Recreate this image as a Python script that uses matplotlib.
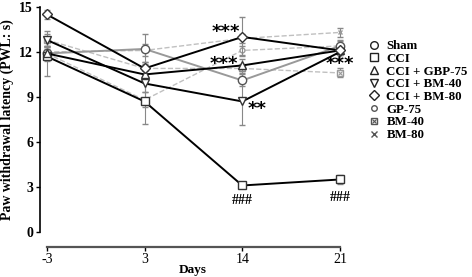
import matplotlib
matplotlib.use("Agg")
import matplotlib.pyplot as plt
import numpy as np
from matplotlib.lines import Line2D

days = ["-3", "3", "14", "21"]
groups = ["Sham", "CCI", "CCI + GBP-75", "CCI + BM-40", "CCI + BM-80", "GP-75", "BM-40", "BM-80"]
sham = [11.9, 12.2, 10.1, 12.4]
cci = [11.7, 8.7, 3.1, 3.5]
cci_gbp75 = [11.9, 10.5, 11.1, 12.1]
cci_bm40 = [12.8, 9.9, 8.7, 12.0]
cci_bm80 = [14.5, 10.9, 13.0, 12.1]
gp75 = [11.9, 8.8, 12.1, 12.4]
bm40 = [12.8, 10.9, 10.9, 10.6]
bm80 = [12.0, 12.1, 12.9, 13.3]

sham_err = [0.5, 1.0, 0.4, 0.4]
cci_err = [1.3, 1.5, 0.2, 0.3]
cci_gbp75_err = [0.4, 0.5, 0.4, 0.3]
cci_bm40_err = [0.6, 0.6, 1.6, 0.4]
cci_bm80_err = [0.3, 0.4, 1.3, 0.3]
gp75_err = [0.4, 0.5, 0.3, 0.3]
bm40_err = [0.4, 0.4, 0.3, 0.3]
bm80_err = [0.4, 0.4, 0.3, 0.3]

plt.rcParams['font.family'] = ['Liberation Serif', 'DejaVu Serif']
fig = plt.figure(figsize=(4.72, 2.77), dpi=100)
ax = fig.add_axes([0.0847, 0.1625, 0.646, 0.8125])
x = np.arange(len(days))

grey = '#c0c0c0'
series = [
    (sham, sham_err, 'o', 6, '#999999', '-', '#555555'),
    (cci, cci_err, 's', 6, 'black', '-', '#333333'),
    (cci_gbp75, cci_gbp75_err, '^', 6, 'black', '-', '#333333'),
    (cci_bm40, cci_bm40_err, 'v', 6, 'black', '-', '#333333'),
    (cci_bm80, cci_bm80_err, 'D', 5.5, 'black', '-', '#333333'),
    (gp75, gp75_err, 'o', 3.5, grey, '--', '#999999'),
    (bm40, bm40_err, 's', 4.5, grey, '--', '#999999'),
    (bm80, bm80_err, 'x', 3.5, grey, '--', '#999999'),
]
order = [5, 6, 7, 0, 1, 2, 3, 4]
for i in order:
    vals, err, mk, ms, col, ls, mec = series[i]
    z = 3 if ls == '-' else 2
    ax.errorbar(x, vals, yerr=err, color=col, ls=ls, lw=1.4 if ls == '-' else 1.0,
                marker=mk, ms=ms, mfc='white', mec=mec, mew=1.0,
                ecolor='#888888', elinewidth=0.8, capsize=2, capthick=0.8, zorder=z)
    if i == 6:
        ax.plot(x, vals, ls='none', marker='x', ms=3.2, mec=mec, mew=0.8, zorder=z + 0.1)

handles = []
for i, ((vals, err, mk, ms, col, ls, mec), g) in enumerate(zip(series, groups)):
    ec = '#222222' if ls == '-' else '#555555'
    h = Line2D([], [], ls='none', marker=mk, ms=min(ms, 5.5) if ms > 4 else 4,
               mfc='white', mec=ec, mew=1.0)
    if i == 6:
        h = (h, Line2D([], [], ls='none', marker='x', ms=3.2, mec=ec, mew=0.8))
    handles.append(h)
ax.legend(handles, groups, loc='upper left', bbox_to_anchor=(1.06, 0.875), frameon=False,
          prop={'weight': 'bold', 'size': 9.3}, handlelength=0.8, handletextpad=0.6,
          labelspacing=0.05, borderaxespad=0)

ax.set_ylim(0, 15)
ax.set_yticks([0, 3, 6, 9, 12, 15])
ax.set_xlim(-0.07, 3.05)
ax.set_xticks(x)
ax.set_xticklabels(days)
for lab in ax.get_xticklabels() + ax.get_yticklabels():
    lab.set_fontweight('bold')
    lab.set_fontsize(10)
ax.spines['top'].set_visible(False)
ax.spines['right'].set_visible(False)
ax.spines['bottom'].set_position(('outward', 11))
ax.spines['bottom'].set_bounds(0, 3)
ax.spines['bottom'].set_linewidth(1.6)
ax.spines['bottom'].set_color('#555555')
ax.spines['left'].set_linewidth(1.2)
ax.tick_params(axis='y', length=3, width=1, pad=2)
ax.tick_params(axis='x', length=3, width=1, pad=1)
ax.set_ylabel('Paw withdrawal latency (PWL: s)', fontweight='bold', fontsize=10, labelpad=4)
ax.set_xlabel('Days', fontweight='bold', fontsize=9.5, labelpad=-1)

sfont = dict(family='DejaVu Sans', fontweight='bold', fontsize=13, ha='center', va='center')
ax.text(1.83, 13.35, '***', **sfont)
ax.text(1.81, 11.2, '***', **sfont)
ax.text(2.15, 8.2, '**', **sfont)
ax.text(3.0, 11.2, '***', **sfont)
hfont = dict(fontweight='bold', fontsize=10, ha='center', va='center')
ax.text(2.0, 2.1, '###', **hfont)
ax.text(3.0, 2.3, '###', **hfont)

fig.savefig('out.png', dpi=100)
